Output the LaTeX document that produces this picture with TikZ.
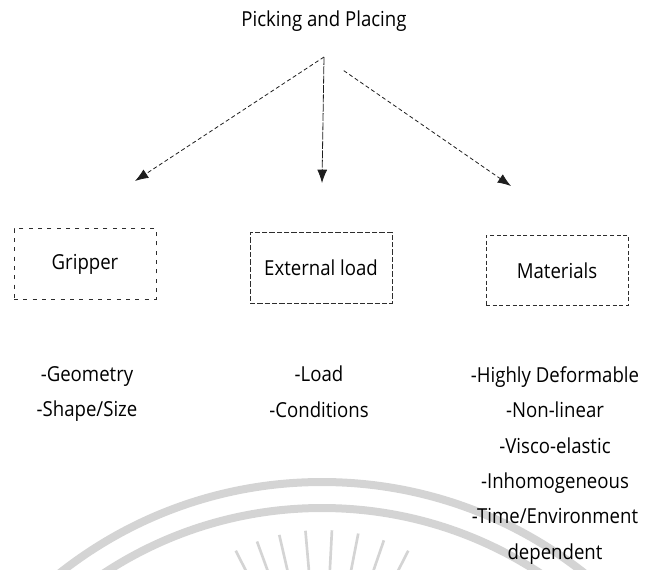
\documentclass[tikz,border=0pt]{standalone}
\usepackage{fontspec}
\usepackage{tikz}
\usepackage{xcolor}
\usetikzlibrary{arrows.meta}
\newfontfamily\pickfont{Open Sans}[FakeStretch=0.9]
\definecolor{pickline}{RGB}{30,30,30}
\definecolor{pickbox}{RGB}{45,45,45}
\definecolor{pickmark}{RGB}{212,212,212}

\begin{document}
\begin{tikzpicture}[
    x=0.75pt, y=-0.75pt,
    every node/.style={font={\pickfont\fontsize{15.5pt}{26.6pt}\selectfont}, text=black},
    blockbox/.style={draw=pickbox, line width=0.6pt, minimum width=106.5pt, minimum height=53pt, inner sep=0pt},
    featlist/.style={align=center, anchor=north, inner sep=0pt},
    pickarrow/.style={pickline, line width=0.6pt, densely dashed, -{Latex[length=10pt, width=7.5pt]}},
]
  \useasboundingbox (0,0) rectangle (645,569);
  % watermark seal
  \begin{scope}
    \clip (0,0) rectangle (645,569);
    \draw[pickmark, line width=6pt] (322,905) circle (423);
    \draw[pickmark, line width=6pt] (322,905) circle (397);
    \foreach \a in {-117,-110,-103,-95,-87,-79,-71,-63} {
      \draw[pickmark, line width=2pt] (322,720) ++(\a:150) -- ++(\a:40);
    }
  \end{scope}
  \node[anchor=base] (title) at (324,26) {Picking and Placing};
  \coordinate (apex) at (324,57);
  \node[blockbox, dash pattern=on 3pt off 4pt] (gripper) at (85,264) {Gripper};
  \node[blockbox, dash pattern=on 4pt off 1.5pt] (extload) at (321,268) {External load};
  \node[blockbox, densely dashed] (materials) at (557,270.5) {Materials};
  \coordinate (gripin) at (135,181);
  \coordinate (loadin) at (322,183);
  \coordinate (matin) at (511,186);
  \draw[pickarrow] (apex) -- (gripin);
  \draw[pickarrow, dash pattern=on 6pt off 1pt] (apex) -- (loadin);
  \draw[pickarrow, shorten <=18pt] (apex) -- (matin);
  \node[featlist] (gripfeat) at (87,366) {-Geometry\\-Shape/Size};
  \node[featlist] (loadfeat) at (319,366) {-Load\\-Conditions};
  \node[featlist] (matfeat) at (555,366) {-Highly Deformable\\-Non-linear\\-Visco-elastic\\-Inhomogeneous\\-Time/Environment\\dependent};
\end{tikzpicture}
\end{document}
